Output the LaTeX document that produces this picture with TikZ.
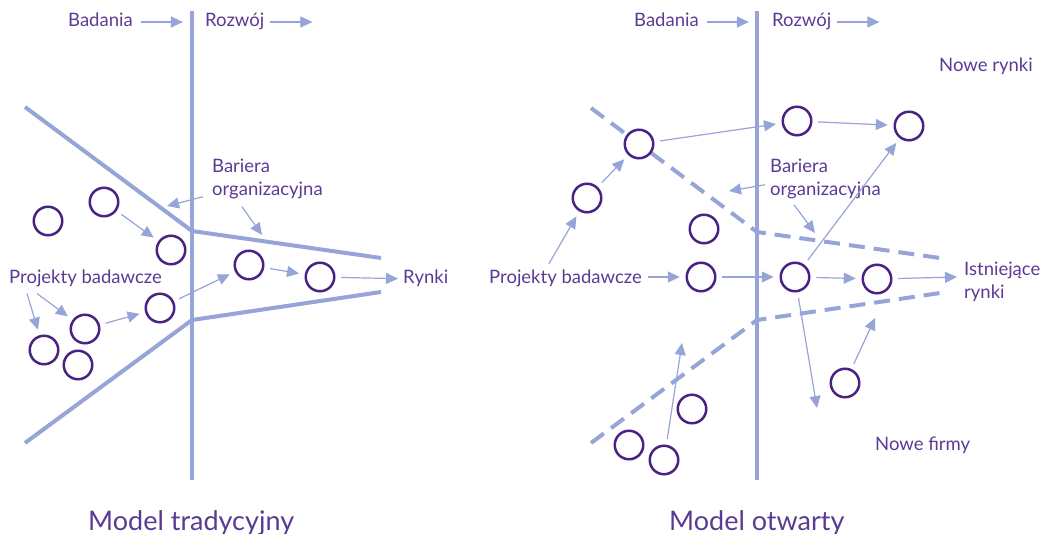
\documentclass[tikz,border=0pt]{standalone}
\usepackage{fontspec}
\setmainfont{Lato}
\usepackage{xcolor}
\usetikzlibrary{arrows.meta,positioning}
\definecolor{linia}{HTML}{97A4D8}
\definecolor{krag}{HTML}{4A2283}
\definecolor{napis}{HTML}{5B3A94}

\begin{document}
\begin{tikzpicture}[
  x=1pt, y=-1pt,
  font=\fontsize{18.5}{23}\selectfont,
  txt/.style={text=napis, inner sep=0pt, anchor=base west},
  opis/.style={text=napis, inner sep=0pt, align=left, anchor=north west},
  tytul/.style={text=napis, inner sep=0pt, anchor=base west, font=\fontsize{27}{32}\selectfont},
  proj/.style={draw=krag, line width=2.5pt, circle, fill=white, minimum size=28.5pt, inner sep=0pt, outer sep=7pt},
  granica/.style={draw=linia, line width=4pt},
  bariera/.style={draw=linia, line width=4pt, dash pattern=on 16pt off 9pt},
  strz/.style={draw=linia, line width=1.2pt, -{Triangle[length=12pt,width=11pt]}}
]
\useasboundingbox (0,0) rectangle (1043,534);

% model tradycyjny
\draw[granica] (192,11) -- (192,480);
\draw[granica] (25,107) -- (192,231) -- (381,258);
\draw[granica] (25,443) -- (192,320) -- (381,292);

\node[txt] (badL) at (68,27) {Badania};
\node[txt] (rozL) at (205,27) {Rozwój};
\node[opis] (barL) at (212,158.5) {Bariera\\organizacyjna};
\node[txt] (projL) at (9,284) {Projekty badawcze};
\node[txt] (rynL) at (403,284) {Rynki};
\node[tytul] (tytL) at (88,530) {Model tradycyjny};

\node[proj] (l1) at (48,221) {};
\node[proj] (l2) at (104,202) {};
\node[proj] (l3) at (171,250) {};
\node[proj] (l4) at (160,308) {};
\node[proj] (l5) at (85,329) {};
\node[proj] (l6) at (44,350) {};
\node[proj] (l7) at (78,365) {};
\node[proj] (l8) at (249,265) {};
\node[proj] (l9) at (320,277) {};

\coordinate (barLa) at (167,206);
\coordinate (barLb) at (262,235);

\draw[strz] ([shift={(8,-5)}]badL.base east) -- ([shift={(50,-5)}]badL.base east);
\draw[strz] ([shift={(6,-5)}]rozL.base east) -- ([shift={(48,-5)}]rozL.base east);
\draw[strz] ([shift={(-9,-2)}]barL.south west) -- (barLa);
\draw[strz] ([shift={(30,8)}]barL.south west) -- (barLb);
\draw[strz] ([shift={(18,6)}]projL.south west) -- (l6);
\draw[strz] ([shift={(28,6)}]projL.south west) -- (l5);
\draw[strz] (l2) -- (l3);
\draw[strz] (l5) -- (l4);
\draw[strz] (l4) -- (l8);
\draw[strz] (l8) -- (l9);
\draw[strz, shorten >=5pt] (l9) -- (rynL.west);

% model otwarty
\draw[granica] (757,11) -- (757,480);
\draw[bariera] (591,108) -- (757,232) -- (947,259);
\draw[bariera] (591,443) -- (757,320) -- (947,292);

\node[txt] (badR) at (634,27) {Badania};
\node[txt] (rozR) at (772,27) {Rozwój};
\node[txt] (nowR) at (939,72) {Nowe rynki};
\node[opis] (barR) at (770,158.5) {Bariera\\organizacyjna};
\node[txt] (projR) at (489,284) {Projekty badawcze};
\node[opis] (istR) at (964,261.5) {Istniejące\\rynki};
\node[txt] (firR) at (875,450) {Nowe firmy};
\node[tytul] (tytR) at (669,530) {Model otwarty};

\node[proj] (a1) at (639,144) {};
\node[proj] (a2) at (587,198) {};
\node[proj] (a3) at (704,229) {};
\node[proj] (p1) at (701,277) {};
\node[proj] (b1) at (797,121) {};
\node[proj] (b2) at (909,126) {};
\node[proj] (c1) at (795,277) {};
\node[proj] (c2) at (877,279) {};
\node[proj] (d1) at (845,383) {};
\node[proj] (e1) at (692,409) {};
\node[proj] (e2) at (629,445) {};
\node[proj] (e3) at (664,460) {};

\coordinate (barRa) at (729,191);
\coordinate (barRb) at (815,233);
\coordinate (istk) at (957,277);
\coordinate (c1k) at (817,408);
\coordinate (d1k) at (875,318);
\coordinate (e3k) at (682,343);

\draw[strz] ([shift={(8,-5)}]badR.base east) -- ([shift={(50,-5)}]badR.base east);
\draw[strz] ([shift={(6,-5)}]rozR.base east) -- ([shift={(48,-5)}]rozR.base east);
\draw[strz] ([shift={(-5,-14)}]barR.south west) -- (barRa);
\draw[strz] ([shift={(24,6)}]barR.south west) -- (barRb);
\draw[strz] ([shift={(60,-6.5)}]projR.north west) -- (a2);
\draw[strz] ([shift={(6,-7)}]projR.base east) -- (p1);
\draw[strz] (a2) -- (a1);
\draw[strz] (a1) -- (b1);
\draw[strz] (b1) -- (b2);
\draw[strz] (p1) -- (c1);
\draw[strz] (c1) -- (c2);
\draw[strz] (c1) -- (b2);
\draw[strz] (c2) -- (istk);
\draw[strz] (c1) -- (c1k);
\draw[strz] (d1) -- (d1k);
\draw[strz] (e3) -- (e3k);
\end{tikzpicture}
\end{document}
